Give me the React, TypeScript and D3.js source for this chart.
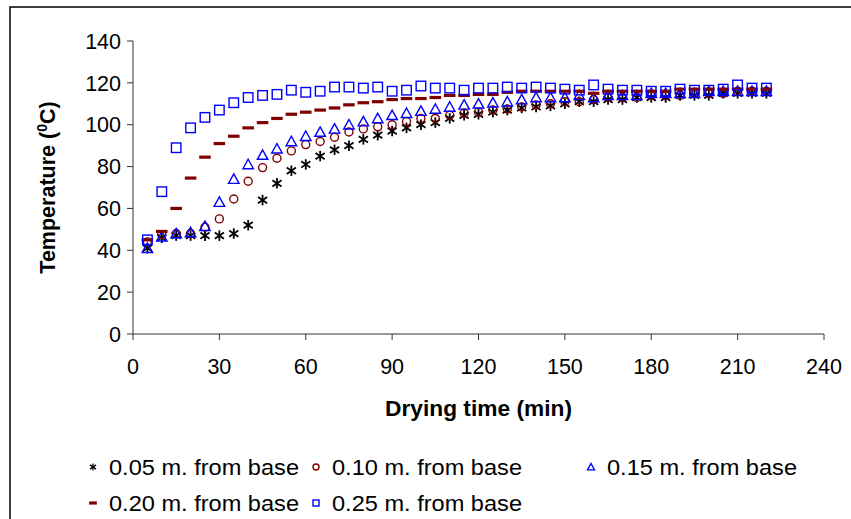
import React from 'react'
import {scaleLinear} from 'd3'

// drying time (min)
const times = [5, 10, 15, 20, 25, 30, 35, 40, 45, 50, 55, 60, 65, 70, 75, 80, 85, 90, 95, 100, 105, 110,
    115, 120, 125, 130, 135, 140, 145, 150, 155, 160, 165, 170, 175, 180, 185, 190, 195, 200, 205, 210, 215, 220]

// temperature (C) at each height
const h005 = [41, 46, 47, 47, 47, 47, 48, 52, 64, 72, 78, 81, 85, 88, 90, 93, 95, 97, 98.5, 100, 101, 103,
    104.5, 105, 106, 107, 108, 108.5, 109, 110, 111, 111, 112, 112, 113, 113, 113, 114, 114, 114, 115, 115, 115, 115]
const h010 = [44, 47.5, 48, 48, 51, 55, 64.5, 73, 79.5, 84, 87.5, 90.5, 92, 94, 96.5, 98, 99, 100, 101.5, 103, 103, 104.5,
    105.5, 106, 107, 107.5, 108.5, 109.5, 110, 111, 111, 112, 113, 113, 113, 114, 114, 114, 115, 115, 115, 116, 116, 116]
const h015 = [41, 46.5, 48, 48.5, 51.5, 63, 74, 81, 85.5, 88.5, 92, 94.5, 96.5, 98, 100, 101.5, 103, 104.5, 105.5, 106.5, 107.5, 108.5,
    109.5, 110, 110.5, 111, 112, 113, 113, 113, 114, 113, 114, 114, 114, 115, 115, 115, 115, 116, 116, 116, 116, 116]
const h020 = [45, 49, 60, 74.5, 84.5, 91, 94.5, 98.5, 101, 103, 105, 106, 107, 108, 109.5, 110.5, 111, 112, 112.5, 112.5, 113, 114,
    114, 114.5, 114.5, 115.5, 116, 116, 116, 116, 116, 115, 116, 116, 116, 116, 116, 117, 117, 117, 117, 117, 117, 117]
const h025 = [45, 68, 89, 98.5, 103.5, 107, 110.5, 113, 114, 114.5, 116.5, 115.5, 116, 118, 118, 117.5, 118, 116, 116.5, 118.5, 117.5, 117.5,
    116.5, 117.5, 117.5, 118, 117.5, 118, 117.5, 117, 116.5, 119, 117, 116.5, 116.5, 116, 116, 117, 116.5, 116.5, 117, 119, 117.5, 117.5]

const xTicks = [0, 30, 60, 90, 120, 150, 180, 210, 240]
const yTicks = [0, 20, 40, 60, 80, 100, 120, 140]

const seriesNames = ['0.05 m. from base', '0.10 m. from base', '0.15 m. from base', '0.20 m. from base', '0.25 m. from base']
const seriesValues = [h005, h010, h015, h020, h025]

const W = 851
const H = 519
const plot = {left: 133, right: 824, top: 41, bottom: 334}
const font = '"Liberation Sans", Arial, sans-serif'
const darkRed = '#800000'
const blue = '#0000FF'

function Marker({kind, x, y, s}: {kind: number, x: number, y: number, s: number}) {
    // s = marker size in px
    if (kind === 0) {
        const r = s / 2
        return <g transform={`translate(${x},${y})`} stroke="#000" strokeWidth={s > 8 ? 1.8 : 1.3}>
            <line x1={0} y1={-r} x2={0} y2={r}/>
            <line x1={-r * 0.87} y1={-r * 0.6} x2={r * 0.87} y2={r * 0.6}/>
            <line x1={-r * 0.87} y1={r * 0.6} x2={r * 0.87} y2={-r * 0.6}/>
        </g>
    }
    if (kind === 1) {
        return <circle cx={x} cy={y} r={s / 2 - 0.5} fill="none" stroke={darkRed} strokeWidth={1.4}/>
    }
    if (kind === 2) {
        const h = s * 0.9
        return <path d={`M${x},${y - h * 0.55}L${x + s / 2},${y + h * 0.45}L${x - s / 2},${y + h * 0.45}Z`}
                     fill="none" stroke={blue} strokeWidth={1.4}/>
    }
    if (kind === 3) {
        return <rect x={x - s * 0.55} y={y - 1.6} width={s * 1.1} height={3.2} fill={darkRed}/>
    }
    return <rect x={x - s / 2 + 0.5} y={y - s / 2 + 0.5} width={s - 1} height={s - 1} fill="none" stroke={blue} strokeWidth={1.4}/>
}

export default function App() {
    const xScale = scaleLinear().domain([0, 240]).range([plot.left, plot.right])
    const yScale = scaleLinear().domain([0, 140]).range([plot.bottom, plot.top])

    const legendPos = [
        {x: 93, y: 467}, {x: 316, y: 467}, {x: 591, y: 467},
        {x: 93, y: 503}, {x: 316, y: 503}
    ]

    return (
        <svg width={W} height={H} style={{position: 'absolute', left: 0, top: 0}} fontFamily={font}>
            <rect x={0} y={0} width={W} height={H} fill="#fff"/>
            <rect x={10} y={7} width={W + 20} height={H + 20} fill="none" stroke="#000" strokeWidth={1.5}/>

            {/* axes */}
            <line x1={plot.left} y1={plot.top} x2={plot.left} y2={plot.bottom} stroke="#333" strokeWidth={1}/>
            <line x1={plot.left} y1={plot.bottom} x2={plot.right} y2={plot.bottom} stroke="#333" strokeWidth={1}/>
            {yTicks.map(t => (
                <g key={'y' + t}>
                    <line x1={plot.left - 6} x2={plot.left} y1={yScale(t)} y2={yScale(t)} stroke="#333"/>
                    <text x={plot.left - 12} y={yScale(t)} dy="0.36em" textAnchor="end" fontSize={21.5}>{t}</text>
                </g>
            ))}
            {xTicks.map(t => (
                <g key={'x' + t}>
                    <line x1={xScale(t)} x2={xScale(t)} y1={plot.bottom} y2={plot.bottom + 6} stroke="#333"/>
                    <text x={xScale(t)} y={plot.bottom + 40} textAnchor="middle" fontSize={21.5}>{t}</text>
                </g>
            ))}

            <text x={(plot.left + plot.right) / 2} y={416} textAnchor="middle" fontSize={21.5} fontWeight="bold"
                  textLength={187} lengthAdjust="spacingAndGlyphs">
                Drying time (min)
            </text>
            <text transform={`translate(55,${(plot.top + plot.bottom) / 2}) rotate(-90)`} textAnchor="middle"
                  fontSize={21.5} fontWeight="bold">
                Temperature (<tspan fontSize={14} dy={-8}>0</tspan><tspan dy={8}>C)</tspan>
            </text>

            {/* data */}
            {seriesValues.map((vals, si) => (
                <g key={'s' + si}>
                    {vals.map((v, i) => (
                        <Marker key={i} kind={si} x={xScale(times[i])} y={yScale(v)} s={si === 1 ? 9 : 10.5}/>
                    ))}
                </g>
            ))}

            {/* legend */}
            {seriesNames.map((name, i) => (
                <g key={'l' + i}>
                    <Marker kind={i} x={legendPos[i].x} y={legendPos[i].y} s={7}/>
                    <text x={legendPos[i].x + 16} y={legendPos[i].y} dy="0.36em" fontSize={21.5}
                          textLength={190} lengthAdjust="spacingAndGlyphs">{name}</text>
                </g>
            ))}
        </svg>
    )
}
